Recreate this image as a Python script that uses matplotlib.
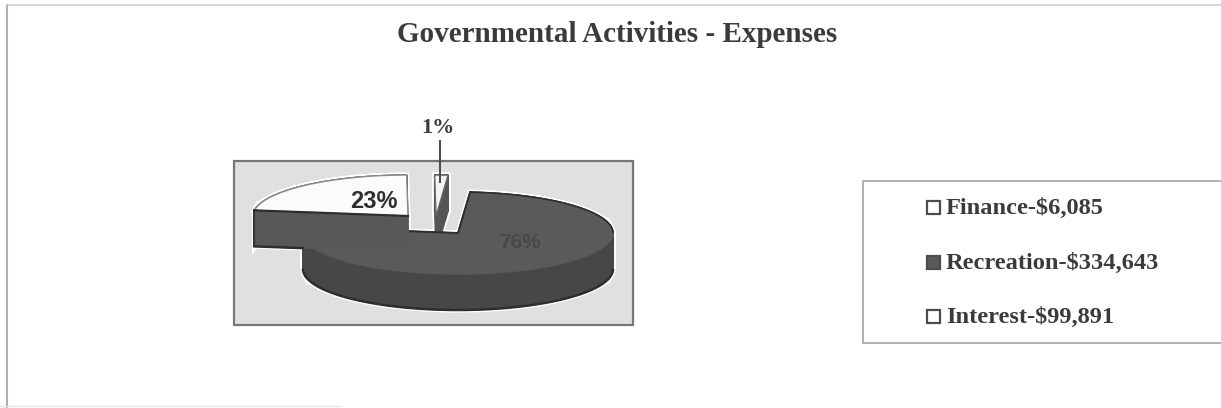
import numpy as np
from matplotlib import pyplot as plt
from matplotlib.patches import Polygon, Rectangle

title = 'Governmental Activities - Expenses'
categories = ['Finance', 'Recreation', 'Interest']
amounts = [6085, 334643, 99891]
legend_labels = ['Finance-$6,085', 'Recreation-$334,643', 'Interest-$99,891']
pct_labels = ['1%', '76%', '23%']

face_colors = ['#f4f4f4', '#5a5a5a', '#fbfbfb']
wall_colors = ['#555555', '#474747', '#585858']
apexes = [(436, 216), (458, 233), (408, 216)]  # exploded slice positions, pixels

rx, ry, depth = 155, 41, 36
start_deg = -0.5  # clockwise from north

serif = ['Liberation Serif', 'DejaVu Serif']
text_col = '#3b3b3b'
rim_col = '#2e2e2e'

fig = plt.figure(figsize=(12.21, 4.08), dpi=100)
ax = fig.add_axes([0, 0, 1, 1])
ax.set_xlim(0, 1221)
ax.set_ylim(408, 0)
ax.axis('off')

# page frame, only three sides survived the scan
ax.plot([7, 7], [5, 408], color='#b0b0b0', lw=1.5)
ax.plot([7, 1221], [5, 5], color='#cccccc', lw=1.1)
ax.plot([0, 340], [406, 406], color='#e6e6e6', lw=1)

ax.text(617, 35, title, family=serif, weight='bold', fontsize=21,
        color=text_col, ha='center', va='center')

# plot area
ax.add_patch(Rectangle((234, 161), 399, 164, fc='#e0e0e0', ec='#777777', lw=1.6))


def wedge_outline(apex, a0, a1):
    t = np.radians(np.linspace(a0, a1, 120))
    xs = apex[0] + rx * np.sin(t)
    ys = apex[1] - ry * np.cos(t)
    return np.column_stack([np.r_[apex[0], xs], np.r_[apex[1], ys]])


shares = np.array(amounts) / sum(amounts) * 360
ends = start_deg + np.cumsum(shares)
starts = ends - shares
recreation_left = apexes[1][0] - rx

# finance first, interest last so its wall sits over the recreation slice
for i in range(3):
    apex = apexes[i]
    pts = wedge_outline(apex, starts[i], ends[i])
    low = pts + [0, depth]
    n = len(pts)
    quads = [np.vstack([pts[j], pts[(j + 1) % n], low[(j + 1) % n], low[j]])
             for j in range(n)]
    # white halo goes under all the slices
    for q in quads:
        ax.add_patch(Polygon(q, fc='white', ec='white', lw=3.5, zorder=2.5))
    ax.add_patch(Polygon(pts, fc='white', ec='white', lw=3.5, zorder=2.5))
    for q in quads:
        ax.add_patch(Polygon(q, fc=wall_colors[i], ec=wall_colors[i], lw=1.0, zorder=3 + i))
    edge = {0: '#666666', 1: face_colors[1], 2: '#8a8a8a'}[i]
    ax.add_patch(Polygon(pts, fc=face_colors[i], ec=edge, lw=1.0, zorder=3.2 + i))

    if i == 1:
        # dark rim: front of the lower arc, back of the top arc, notch edges
        front = low[1:][low[1:, 1] > apex[1] + depth]
        ax.plot(front[:, 0], front[:, 1], color=rim_col, lw=1.8, zorder=3.5 + i)
        arc = pts[1:]
        back = arc[:np.argmax(arc[:, 1] >= apex[1])]
        ax.plot(back[:, 0], back[:, 1], color=rim_col, lw=1.2, zorder=3.5 + i)
        ax.plot([pts[1, 0], apex[0], pts[-1, 0]], [pts[1, 1], apex[1], pts[-1, 1]],
                color=rim_col, lw=1.4, zorder=3.5 + i)
    if i == 2:
        # arc starts at the left corner of this slice
        corner, corner_low = pts[1], low[1]
        ax.plot([corner[0], apex[0]], [corner[1], apex[1]], color=rim_col, lw=1.6,
                zorder=3.5 + i)
        ax.plot([corner[0], corner_low[0]], [corner[1], corner_low[1]], color=rim_col, lw=1.4,
                zorder=3.5 + i)
        frac = (recreation_left - corner_low[0]) / (apex[0] - corner_low[0])
        stop_y = corner_low[1] + frac * (apex[1] + depth - corner_low[1])
        ax.plot([corner_low[0], recreation_left], [corner_low[1], stop_y], color=rim_col, lw=1.8,
                zorder=3.5 + i)

# percent labels
ax.plot([440, 440], [141, 182], color='#4a4a4a', lw=1.4, zorder=8)
ax.text(438, 128, pct_labels[0], family=serif, weight='bold', fontsize=16,
        color=text_col, ha='center', va='center', zorder=9)
ax.text(374, 201, pct_labels[2], family=['Liberation Sans', 'DejaVu Sans'], weight='bold',
        fontsize=17, color='#2e2e2e', ha='center', va='center', zorder=9)
ax.text(520, 243, pct_labels[1], family=['Liberation Sans', 'DejaVu Sans'], weight='bold',
        fontsize=15, color='#484848', ha='center', va='center', zorder=9)

# legend box
ax.add_patch(Rectangle((863, 181), 370, 162, fc='white', ec='#a5a5a5', lw=1.2))
for i, y in enumerate([207, 262, 316]):
    ax.add_patch(Rectangle((927, y - 6), 13, 13, fc=face_colors[i] if i == 1 else 'white',
                           ec='#4d4d4d', lw=1.6))
    ax.text(946, y + 1, legend_labels[i], family=serif, weight='bold', fontsize=17.6,
            color=text_col, ha='left', va='center')

fig.savefig('out.png', dpi=100)
plt.close(fig)
